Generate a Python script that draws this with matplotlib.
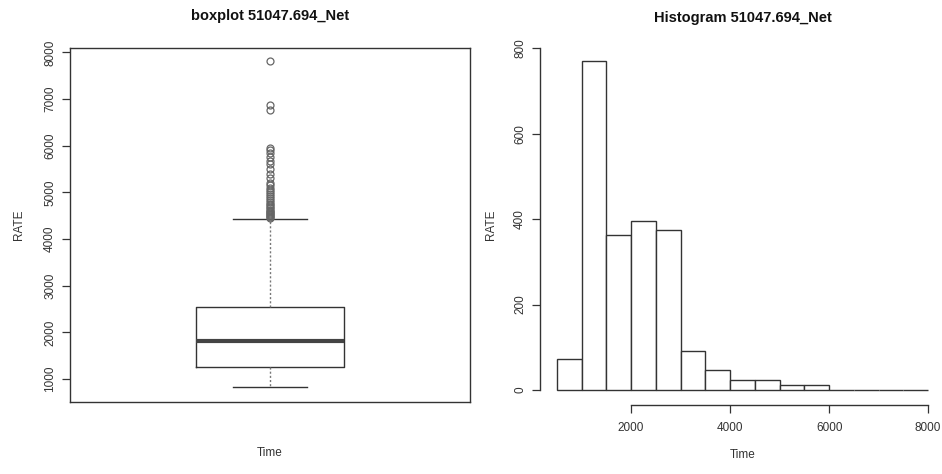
import matplotlib
matplotlib.use("Agg")
import matplotlib.pyplot as plt

plt.rcParams['font.family'] = ['Liberation Sans', 'DejaVu Sans']

# ---- data ----
box_title = "boxplot 51047.694_Net"
hist_title = "Histogram 51047.694_Net"
box_q1 = 1264
box_median = 1814
box_q3 = 2536
box_whislo = 822
box_whishi = 4422
box_fliers = [4450, 4470, 4490, 4510, 4530, 4550, 4575, 4600, 4630, 4660, 4690,
              4720, 4760, 4800, 4840, 4880, 4920, 4960, 5000, 5050, 5100, 5150,
              5200, 5300, 5400, 5500, 5600, 5680, 5760, 5840, 5900, 5950,
              6770, 6880, 7820]
box_yticks = [1000, 2000, 3000, 4000, 5000, 6000, 7000, 8000]

hist_edges = [500, 1000, 1500, 2000, 2500, 3000, 3500, 4000, 4500, 5000, 5500,
              6000, 6500, 7000, 7500, 8000]
hist_counts = [72, 769, 362, 395, 374, 92, 48, 23, 23, 11, 11, 0, 1, 0, 1]
hist_xticks = [2000, 4000, 6000, 8000]
hist_yticks = [0, 200, 400, 600, 800]

xlabel = "Time"
ylabel = "RATE"

W, H = 942, 474
fig = plt.figure(figsize=(W / 100, H / 100), dpi=100)

line_col = '#333333'
text_col = '#333333'

def fx(px):
    return px / W

def fy(py):
    return 1 - py / H

# ---- boxplot ----
bl, br, bt, bb = 70, 469.5, 47.7, 401.7
ax1 = fig.add_axes([fx(bl), fy(bb), fx(br - bl), (bb - bt) / H])
stats = [dict(med=box_median, q1=box_q1, q3=box_q3, whislo=box_whislo,
              whishi=box_whishi, fliers=box_fliers)]
ax1.bxp(stats, positions=[1], widths=0.4, capwidths=0.2, showfliers=True,
        boxprops=dict(color=line_col, linewidth=1.0),
        medianprops=dict(color='#444444', linewidth=3.0, solid_capstyle='butt'),
        whiskerprops=dict(color='#777777', linewidth=1.0, linestyle=(0, (1.5, 1.5))),
        capprops=dict(color=line_col, linewidth=1.0),
        flierprops=dict(marker='o', markersize=5, markerfacecolor='none',
                        markeredgecolor='#666666', markeredgewidth=0.9))
lo, hi = 550, 8110
ax1.set_ylim(lo - 36, hi - 11)
ax1.set_xlim(0.46, 1.54)
ax1.set_xticks([])
ax1.set_yticks(box_yticks)
ax1.set_yticklabels([str(v) for v in box_yticks])
ax1.tick_params(axis='y', direction='out', length=6, width=0.9, color=line_col,
                labelsize=8.5, labelcolor=text_col, labelrotation=90, pad=4)
for t in ax1.get_yticklabels():
    t.set_va('center')
for s in ax1.spines.values():
    s.set_color(line_col)
    s.set_linewidth(1.0)
ax1.set_xlabel(xlabel, fontsize=8.5, color=text_col)
ax1.xaxis.label.set_va('center')
ax1.xaxis.set_label_coords(0.5, (bb - 453) / (bb - bt))
ax1.set_ylabel(ylabel, fontsize=8.5, color=text_col)
ax1.yaxis.label.set_va('center')
ax1.yaxis.set_label_coords((19 - bl) / (br - bl), 0.5)
ax1.text(0.5, (bb - 16) / (bb - bt), box_title, transform=ax1.transAxes,
         ha='center', va='center', fontsize=10.5, fontweight='bold', color='#111111')

# ---- histogram ----
hl, hr, ht, hb = 542, 943, 47.7, 402
ax2 = fig.add_axes([fx(hl), fy(hb), fx(hr - hl), (hb - ht) / H])
ax2.hist(hist_edges[:-1], bins=hist_edges, weights=hist_counts,
         facecolor='white', edgecolor=line_col, linewidth=1.0)
ax2.set_xlim(200, 8300)
ax2.set_ylim(-28, 801)
ax2.set_xticks(hist_xticks)
ax2.set_xticklabels([str(v) for v in hist_xticks])
ax2.set_yticks(hist_yticks)
ax2.set_yticklabels([str(v) for v in hist_yticks])
for k in ['top', 'right']:
    ax2.spines[k].set_visible(False)
ax2.spines['left'].set_bounds(0, 800)
ax2.spines['bottom'].set_bounds(2000, 8000)
ax2.spines['left'].set_position(('outward', 1.5))
ax2.spines['bottom'].set_position(('outward', 2.2))
for k in ['left', 'bottom']:
    ax2.spines[k].set_color(line_col)
    ax2.spines[k].set_linewidth(1.0)
ax2.tick_params(axis='both', direction='out', length=6, width=0.9, color=line_col,
                labelsize=8.5, labelcolor=text_col, pad=4)
ax2.tick_params(axis='x', pad=6)
ax2.tick_params(axis='y', labelrotation=90)
for t in ax2.get_yticklabels():
    t.set_va('center')
ax2.set_xlabel(xlabel, fontsize=8.5, color=text_col)
ax2.xaxis.label.set_va('center')
ax2.xaxis.set_label_coords(0.5, (hb - 455) / (hb - ht))
ax2.set_ylabel(ylabel, fontsize=8.5, color=text_col)
ax2.yaxis.label.set_va('center')
ax2.yaxis.set_label_coords((490.7 - hl) / (hr - hl), 0.5)
ax2.text(0.5, (hb - 18) / (hb - ht), hist_title, transform=ax2.transAxes,
         ha='center', va='center', fontsize=10.5, fontweight='bold', color='#111111')

fig.savefig('out.png', dpi=100, facecolor='white')
